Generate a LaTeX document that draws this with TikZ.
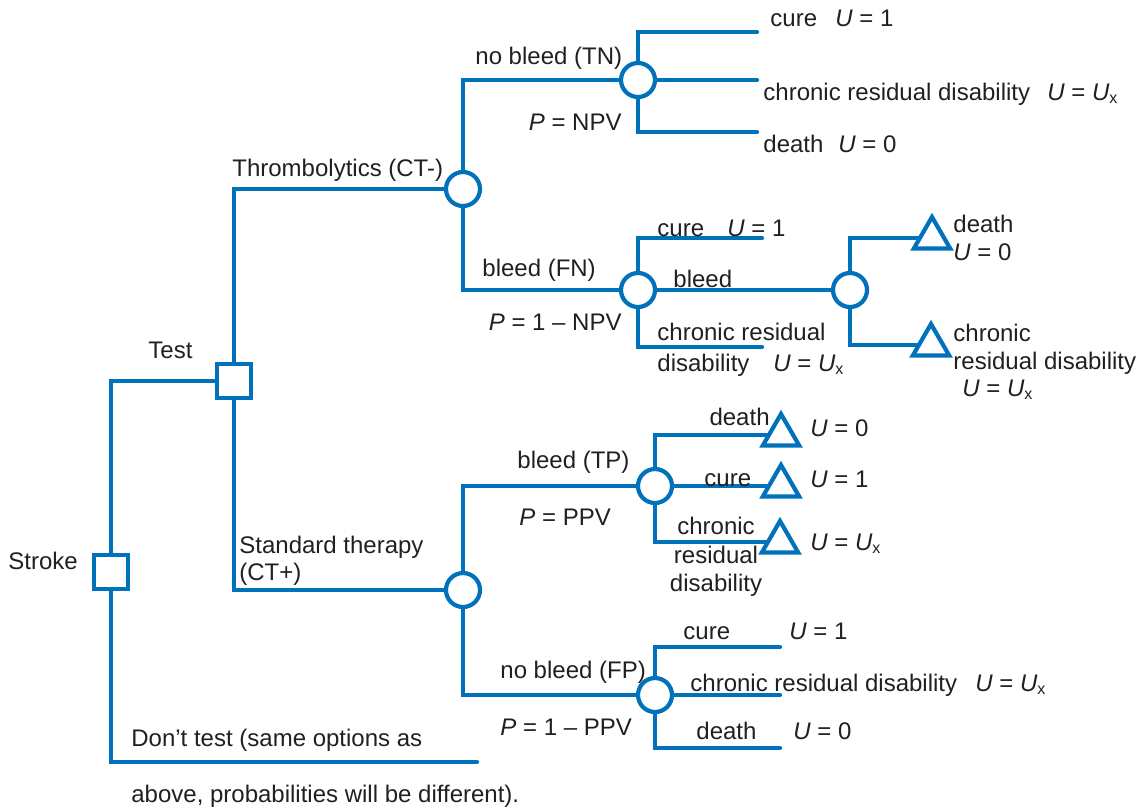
\documentclass[tikz,border=0pt]{standalone}
\usepackage{fontspec}
\setmainfont{Liberation Sans}
\usetikzlibrary{shapes.geometric}
\definecolor{treeblue}{RGB}{0,114,188}
\definecolor{labelgray}{RGB}{35,31,32}
\newcommand{\uval}[1]{{\itshape U} = #1}
\newcommand{\usubx}{{\itshape U}\textsubscript{x}}
\begin{document}
\begin{tikzpicture}[x=0.5pt, y=-0.5pt,
  branch/.style={draw=treeblue, line width=2.1pt, line cap=round},
  decision/.style={draw=treeblue, line width=2.1pt, fill=white, rectangle, minimum size=17pt, inner sep=0pt},
  chance/.style={draw=treeblue, line width=2.1pt, fill=white, circle, minimum size=17pt, inner sep=0pt},
  terminal/.style={draw=treeblue, line width=2.1pt, fill=white, regular polygon, regular polygon sides=3, minimum size=21pt, inner sep=0pt},
  lbl/.style={text=labelgray, font=\fontsize{12}{14}\selectfont, inner sep=0pt, anchor=base west}]
\useasboundingbox (0,0) rectangle (1143,810);
% Decisions
\node[decision] (stroke) at (111,572) {};
\node[decision] (test) at (234,381) {};
\coordinate (dont) at (477,762);
\node[chance] (thromb) at (463,189) {};
\node[chance] (stdther) at (463,590) {};
\draw[branch] (stroke) |- (test);
\draw[branch] (stroke) |- (dont);
\draw[branch] (test) |- (thromb);
\draw[branch] (test) |- (stdther);
\node[lbl] (strokelbl) at (8,569) {Stroke};
\node[lbl] (testlbl) at (148,358) {Test};
\node[lbl] (thromblbl) at (232,176) {Thrombolytics (CT-)};
\node[lbl] (stdlbl1) at (239,553) {Standard therapy};
\node[lbl] (stdlbl2) at (239,580) {(CT+)};
\node[lbl] (dontlbl1) at (131,746) {Don’t test (same options as};
\node[lbl] (dontlbl2) at (131,802) {above, probabilities will be different).};
% Thrombolytics (CT-)
\node[chance] (tn) at (638,80) {};
\node[chance] (fn) at (638,290) {};
\draw[branch] (thromb) |- (tn);
\draw[branch] (thromb) |- (fn);
\node[lbl] (tnlbl) at (475,64) {no bleed (TN)};
\node[lbl, anchor=base east] (tnprob) at (622,130) {{\itshape P} = NPV};
\node[lbl] (fnlbl) at (482,276) {bleed (FN)};
\node[lbl, anchor=base east] (fnprob) at (622,330) {{\itshape P} = 1 – NPV};
% no bleed (TN)
\coordinate (tncure) at (757,32);
\coordinate (tnchron) at (757,80);
\coordinate (tndeath) at (757,132);
\draw[branch] (tn) |- (tncure);
\draw[branch] (tn) -- (tnchron);
\draw[branch] (tn) |- (tndeath);
\node[lbl] (tncurelbl) at (770,26) {cure};
\node[lbl] (tncureu) at (835,26) {\uval{1}};
\node[lbl] (tnchronlbl) at (763,100) {chronic residual disability};
\node[lbl] (tnchronu) at (1047,100) {\uval{\usubx}};
\node[lbl] (tndeathlbl) at (763,152) {death};
\node[lbl] (tndeathu) at (838,152) {\uval{0}};
% bleed (FN)
\coordinate (fncure) at (762,238);
\node[chance] (fnbleed) at (850,290) {};
\coordinate (fnchron) at (762,347);
\draw[branch] (fn) |- (fncure);
\draw[branch] (fn) -- (fnbleed);
\draw[branch] (fn) |- (fnchron);
\node[lbl] (fncurelbl) at (657,236) {cure};
\node[lbl] (fncureu) at (727,236) {\uval{1}};
\node[lbl] (fnbleedlbl) at (673,287) {bleed};
\node[lbl] (fnchronlbl) at (657,340) {chronic residual};
\node[lbl] (fndislbl) at (657,371) {disability};
\node[lbl] (fnchronu) at (773,371) {\uval{\usubx}};
\node[terminal] (fndeath) at (932,238) {};
\node[terminal] (fnchronic) at (931,345) {};
\draw[branch] (fnbleed) |- (fndeath);
\draw[branch] (fnbleed) |- (fnchronic);
\node[lbl] (fndeathlbl) at (953,232) {death};
\node[lbl] (fndeathu) at (953,260) {\uval{0}};
\node[lbl] (fnchroniclbl1) at (953,341) {chronic};
\node[lbl] (fnchroniclbl2) at (953,369) {residual disability};
\node[lbl] (fnchronicu) at (962,396) {\uval{\usubx}};
% Standard therapy (CT+)
\node[chance] (tp) at (655,486) {};
\node[chance] (fp) at (655,695) {};
\draw[branch] (stdther) |- (tp);
\draw[branch] (stdther) |- (fp);
\node[lbl] (tplbl) at (517,468) {bleed (TP)};
\node[lbl] (tpprob) at (519,525) {{\itshape P} = PPV};
\node[lbl] (fplbl) at (500,678) {no bleed (FP)};
\node[lbl] (fpprob) at (500,735) {{\itshape P} = 1 – PPV};
% bleed (TP)
\node[terminal] (tpdeath) at (781,435) {};
\node[terminal] (tpcure) at (781,486) {};
\node[terminal] (tpchronic) at (780,542) {};
\draw[branch] (tp) |- (tpdeath);
\draw[branch] (tp) -- (tpcure);
\draw[branch] (tp) |- (tpchronic);
\node[lbl, anchor=base east] (tpdeathlbl) at (770,425) {death};
\node[lbl] (tpdeathu) at (810,436) {\uval{0}};
\node[lbl] (tpcurelbl) at (704,486) {cure};
\node[lbl] (tpcureu) at (810,487) {\uval{1}};
\node[lbl, anchor=base] (tpchronlbl1) at (716,534) {chronic};
\node[lbl, anchor=base] (tpchronlbl2) at (716,563) {residual};
\node[lbl, anchor=base] (tpchronlbl3) at (716,591) {disability};
\node[lbl] (tpchronu) at (810,550) {\uval{\usubx}};
% no bleed (FP)
\coordinate (fpcure) at (780,647);
\coordinate (fpchron) at (780,695);
\coordinate (fpdeath) at (780,748);
\draw[branch] (fp) |- (fpcure);
\draw[branch] (fp) -- (fpchron);
\draw[branch] (fp) |- (fpdeath);
\node[lbl] (fpcurelbl) at (683,639) {cure};
\node[lbl] (fpcureu) at (789,639) {\uval{1}};
\node[lbl] (fpchronlbl) at (690,691) {chronic residual disability};
\node[lbl] (fpchronu) at (975,691) {\uval{\usubx}};
\node[lbl] (fpdeathlbl) at (696,739) {death};
\node[lbl] (fpdeathu) at (793,739) {\uval{0}};
\end{tikzpicture}
\end{document}
